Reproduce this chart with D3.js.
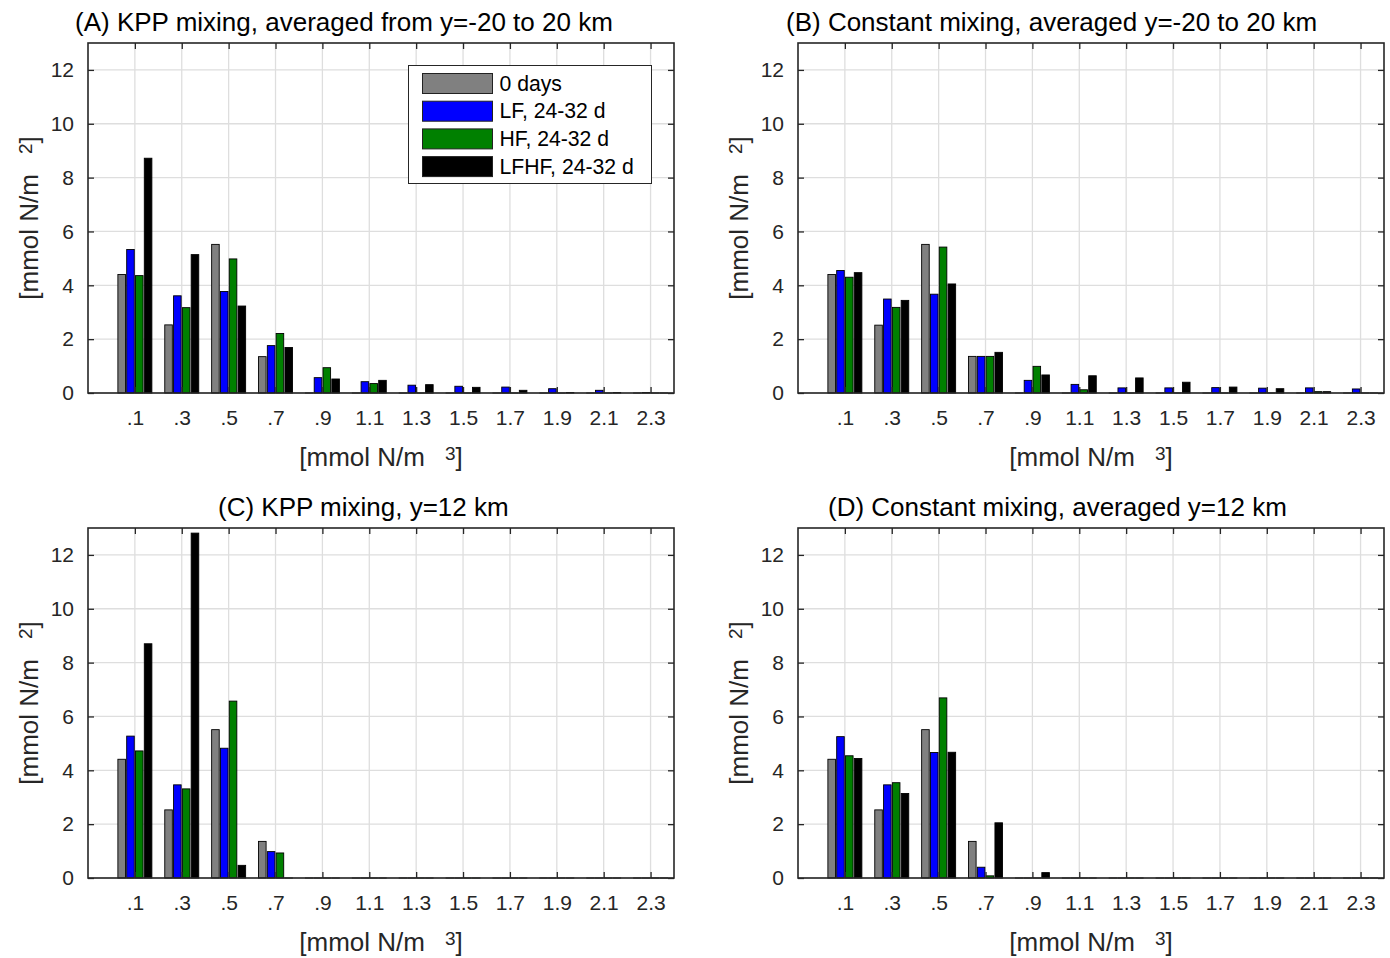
<!DOCTYPE html>
<html><head><meta charset="utf-8">
<script src="https://cdn.jsdelivr.net/npm/d3@7"></script>
<style>
body{margin:0;background:#fff;}
svg{display:block;font-family:"Liberation Sans",Arial,Helvetica,sans-serif;}
</style></head>
<body><svg id="chart" width="1390" height="958"></svg>
<script>
// ---------- data ----------
const xValues = [0.1,0.3,0.5,0.7,0.9,1.1,1.3,1.5,1.7,1.9,2.1,2.3];
const xTickLabels = [".1",".3",".5",".7",".9","1.1","1.3","1.5","1.7","1.9","2.1","2.3"];
const yTicks = [0,2,4,6,8,10,12];
const seriesNames = ["0 days","LF, 24-32 d","HF, 24-32 d","LFHF, 24-32 d"];
const seriesColors = ["#808080","#0000ff","#008000","#000000"];

const days0_A = [4.40,2.53,5.52,1.35,0,0,0,0,0,0,0,0];
const lf_A    = [5.33,3.61,3.77,1.76,0.57,0.42,0.29,0.25,0.22,0.16,0.10,0.02];
const hf_A    = [4.36,3.17,4.98,2.21,0.94,0.35,0,0,0,0,0,0];
const lfhf_A  = [8.72,5.14,3.23,1.69,0.52,0.47,0.31,0.21,0.10,0.02,0.02,0];

const days0_B = [4.40,2.52,5.52,1.36,0,0,0,0,0,0,0,0];
const lf_B    = [4.55,3.49,3.67,1.36,0.47,0.32,0.19,0.19,0.20,0.18,0.19,0.15];
const hf_B    = [4.30,3.18,5.42,1.36,0.99,0.12,0,0,0,0,0.05,0];
const lfhf_B  = [4.47,3.44,4.05,1.51,0.67,0.64,0.56,0.40,0.22,0.16,0.05,0];

const days0_C = [4.41,2.53,5.51,1.36,0,0,0,0,0,0,0,0];
const lf_C    = [5.27,3.46,4.82,0.98,0,0,0,0,0,0,0,0];
const hf_C    = [4.72,3.31,6.57,0.93,0,0,0,0,0,0,0,0];
const lfhf_C  = [8.70,12.81,0.47,0,0,0,0,0,0,0,0,0];

const days0_D = [4.41,2.53,5.51,1.36,0,0,0,0,0,0,0,0];
const lf_D    = [5.25,3.46,4.66,0.40,0,0,0,0,0,0,0,0];
const hf_D    = [4.54,3.54,6.69,0.08,0,0,0,0,0,0,0,0];
const lfhf_D  = [4.44,3.14,4.67,2.05,0.20,0,0,0,0,0,0,0];

const titles = [
  "(A) KPP mixing, averaged from y=-20 to 20 km",
  "(B) Constant mixing, averaged y=-20 to 20 km",
  "(C) KPP mixing, y=12 km",
  "(D) Constant mixing, averaged y=12 km"
];

// ---------- layout ----------
const panels = [
  {left:88, top:43, title:titles[0], titleX:75, series:[days0_A,lf_A,hf_A,lfhf_A], legend:true},
  {left:798, top:43, title:titles[1], titleX:786, series:[days0_B,lf_B,hf_B,lfhf_B]},
  {left:88, top:528, title:titles[2], titleX:218, series:[days0_C,lf_C,hf_C,lfhf_C]},
  {left:798, top:528, title:titles[3], titleX:828, series:[days0_D,lf_D,hf_D,lfhf_D]}
];
const W = 586, H = 350;
const axisColor = "#262626";
const gridColor = "#dedede";
const tickFont = 21, labelFont = 26;

const svg = d3.select("#chart");
svg.append("rect").attr("width",1390).attr("height",958).attr("fill","#fff");

panels.forEach(p => {
  const g = svg.append("g").attr("transform",`translate(${p.left},${p.top})`);
  const x = d3.scaleLinear().domain([-0.1,2.4]).range([0,W]);
  const y = d3.scaleLinear().domain([0,13]).range([H,0]);
  const spacing = x(0.2)-x(0);
  const inner = d3.scaleBand().domain(d3.range(seriesNames.length))
      .range([-spacing*0.3625, spacing*0.3625]).paddingInner(0.14);

  // grid
  g.append("g").selectAll("line.vg").data(xValues).join("line")
    .attr("x1",d=>x(d)).attr("x2",d=>x(d)).attr("y1",0).attr("y2",H)
    .attr("stroke",gridColor).attr("stroke-width",1.3);
  g.append("g").selectAll("line.hg").data(yTicks).join("line")
    .attr("x1",0).attr("x2",W).attr("y1",d=>y(d)).attr("y2",d=>y(d))
    .attr("stroke",gridColor).attr("stroke-width",1.3);

  // bars
  p.series.forEach((vals, si) => {
    g.append("g").selectAll("rect").data(vals.map((v,i)=>({v, x:xValues[i]}))).join("rect")
      .attr("x", d => x(d.x) + inner(si))
      .attr("width", inner.bandwidth())
      .attr("y", d => y(d.v))
      .attr("height", d => Math.max(y(0)-y(d.v), 0.01))
      .attr("fill", seriesColors[si])
      .attr("stroke", "#000").attr("stroke-width", 0.9);
  });

  // axes (inner ticks, box)
  const ax = g.append("g").attr("fill","none");
  ax.append("g").attr("transform",`translate(0,${H})`)
    .call(d3.axisBottom(x).tickValues(xValues).tickFormat((d,i)=>xTickLabels[i]).tickSizeInner(-6).tickSizeOuter(0).tickPadding(17));
  ax.append("g").call(d3.axisTop(x).tickValues(xValues).tickFormat("").tickSizeInner(-6).tickSizeOuter(0));
  ax.append("g").call(d3.axisLeft(y).tickValues(yTicks).tickSizeInner(-6).tickSizeOuter(0).tickPadding(14));
  ax.append("g").attr("transform",`translate(${W},0)`)
    .call(d3.axisRight(y).tickValues(yTicks).tickFormat("").tickSizeInner(-6).tickSizeOuter(0));
  ax.selectAll(".domain").remove();
  ax.selectAll(".tick line").attr("stroke",axisColor).attr("stroke-width",1.3);
  ax.selectAll(".tick text").attr("fill","#262626").style("font-size",tickFont+"px").style("font-family","inherit");
  g.append("rect").attr("x",0).attr("y",0).attr("width",W).attr("height",H)
    .attr("fill","none").attr("stroke",axisColor).attr("stroke-width",1.6);

  // title
  svg.append("text").attr("x",p.titleX).attr("y",p.top-12)
    .attr("fill","#000").style("font-size",labelFont+"px").text(p.title);

  // x label
  const xl = svg.append("text").attr("x",p.left+W/2).attr("y",p.top+H+73)
    .attr("text-anchor","middle").attr("fill","#262626").style("font-size",labelFont+"px");
  xl.append("tspan").text("[mmol N/m");
  xl.append("tspan").attr("dx",20).attr("dy",-6).style("font-size","19px").text("3");
  xl.append("tspan").attr("dy",6).text("]");

  // y label
  const yl = svg.append("text")
    .attr("transform",`translate(${p.left-50},${p.top+H/2}) rotate(-90)`)
    .attr("text-anchor","middle").attr("fill","#262626").style("font-size",labelFont+"px");
  yl.append("tspan").text("[mmol N/m");
  yl.append("tspan").attr("dx",20).attr("dy",-6).style("font-size","19px").text("2");
  yl.append("tspan").attr("dy",6).text("]");

  // legend
  if (p.legend) {
    const lg = svg.append("g").attr("transform","translate(408.5,65.5)");
    lg.append("rect").attr("width",243).attr("height",118).attr("fill","#fff")
      .attr("stroke","#262626").attr("stroke-width",1);
    seriesNames.forEach((name,i)=>{
      lg.append("rect").attr("x",14).attr("y",8+i*27.7).attr("width",70).attr("height",20)
        .attr("fill",seriesColors[i]).attr("stroke","#222").attr("stroke-width",1);
      lg.append("text").attr("x",91).attr("y",8+i*27.7+17).attr("fill","#000")
        .style("font-size","21.2px").text(name);
    });
  }
});
</script></body></html>
